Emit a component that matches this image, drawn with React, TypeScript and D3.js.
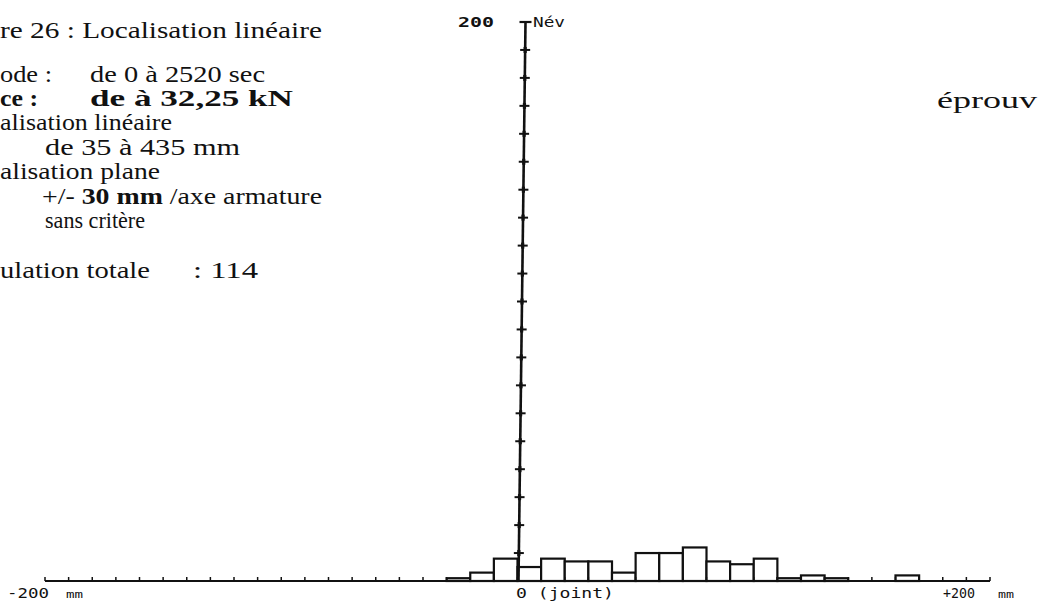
import React from 'react';
import * as d3 from 'd3';

// Histogram of located events (bin start in mm, 10 mm bins)
const binStarts = [-30, -20, -10, 0, 10, 20, 30, 40, 50, 60, 70, 80, 90, 100, 110, 120, 130, 160];
const eventCounts = [1, 3, 8, 5, 8, 7, 7, 3, 10, 10, 12, 7, 6, 8, 1, 2, 1, 2];
const binWidthMm = 10;
const xDomain = [-200, 200];
const yDomain = [0, 200];
const xTickValues = d3.range(-200, 201, 10);
const yTickValues = d3.range(10, 200, 10);

export default function App() {
  const W = 1038;
  const H = 607;
  const x = d3.scaleLinear().domain(xDomain).range([45, 990]);
  const y = d3.scaleLinear().domain(yDomain).range([581, 22]);
  const lean = 7;
  const axisX = (v: number) => x(0) + 1 + lean * (v / yDomain[1]);

  const serif = '"Liberation Serif", "Times New Roman", serif';
  const mono = '"DejaVu Sans Mono", monospace';
  const ink = '#111';

  const bars = binStarts.map((b, i) => ({ x0: b, x1: b + binWidthMm, n: eventCounts[i] }));

  return (
    <svg width={W} height={H} viewBox={`0 0 ${W} ${H}`}
      style={{ position: 'absolute', left: 0, top: 0, background: '#fff' }}>
      <rect x={0} y={0} width={W} height={H} fill="#fff" />

      {/* Left text block */}
      <g fontFamily={serif} fontSize={22.5} fill={ink}>
        <text x={0} y={38} textLength={322} lengthAdjust="spacingAndGlyphs">re 26 : Localisation linéaire</text>
        <text x={0} y={82} textLength={52} lengthAdjust="spacingAndGlyphs">ode :</text>
        <text x={90} y={82} textLength={175} lengthAdjust="spacingAndGlyphs">de 0 à 2520 sec</text>
        <text x={0} y={106} fontWeight="bold" textLength={38} lengthAdjust="spacingAndGlyphs">ce :</text>
        <text x={90} y={106} fontWeight="bold" textLength={203} lengthAdjust="spacingAndGlyphs">de  à 32,25 kN</text>
        <text x={0} y={130} textLength={172} lengthAdjust="spacingAndGlyphs">alisation linéaire</text>
        <text x={45} y={155} textLength={195} lengthAdjust="spacingAndGlyphs">de 35 à 435 mm</text>
        <text x={0} y={179} textLength={160} lengthAdjust="spacingAndGlyphs">alisation plane</text>
        <text x={42} y={204} textLength={280} lengthAdjust="spacingAndGlyphs">
          +/- <tspan fontWeight="bold">30 mm</tspan> /axe armature
        </text>
        <text x={45} y={228} textLength={100} lengthAdjust="spacingAndGlyphs">sans critère</text>
        <text x={0} y={278} textLength={150} lengthAdjust="spacingAndGlyphs">ulation totale</text>
        <text x={193} y={278} textLength={65} lengthAdjust="spacingAndGlyphs">: 114</text>
      </g>
      <text x={937} y={108} fontFamily={serif} fontSize={22.5} fill={ink}
        textLength={100} lengthAdjust="spacingAndGlyphs">éprouv</text>

      {/* Bars */}
      <g fill="#fff" stroke={ink} strokeWidth={2.2}>
        {bars.map((d, i) => (
          <rect key={i} x={x(d.x0)} y={y(d.n)} width={x(d.x1) - x(d.x0)} height={y(0) - y(d.n)} />
        ))}
      </g>

      {/* X axis */}
      <line x1={x(xDomain[0])} x2={x(xDomain[1])} y1={y(0)} y2={y(0)} stroke={ink} strokeWidth={2.2} />
      {xTickValues.map(v => (
        <line key={v} x1={x(v)} x2={x(v)} y1={y(0)} y2={y(0) - 4} stroke={ink} strokeWidth={1.5} />
      ))}

      {/* Y axis */}
      <line x1={axisX(0)} y1={y(0)} x2={axisX(yDomain[1])} y2={y(yDomain[1])} stroke={ink} strokeWidth={2.6} />
      {yTickValues.map(v => (
        <g key={v}>
          <line x1={axisX(v) - 5} x2={axisX(v) + 5} y1={y(v)} y2={y(v)} stroke={ink} strokeWidth={2} />
          <line x1={axisX(v)} x2={axisX(v)} y1={y(v) - 3} y2={y(v) + 3} stroke={ink} strokeWidth={3.2} />
        </g>
      ))}
      <line x1={axisX(yDomain[1]) - 6} x2={axisX(yDomain[1]) + 6} y1={y(yDomain[1])} y2={y(yDomain[1])} stroke={ink} strokeWidth={2.2} />

      {/* Axis labels */}
      <g fontFamily={mono} fontSize={14} fill={ink}>
        <text x={458} y={27} fontWeight="bold" textLength={36} lengthAdjust="spacingAndGlyphs">{yDomain[1]}</text>
        <text x={533} y={27} textLength={32} lengthAdjust="spacingAndGlyphs">Név</text>
        <text x={7} y={598} textLength={42} lengthAdjust="spacingAndGlyphs">-200</text>
        <text x={66} y={598} fontSize={11} textLength={17} lengthAdjust="spacingAndGlyphs">mm</text>
        <text x={516} y={598} textLength={98} lengthAdjust="spacingAndGlyphs">0 (joint)</text>
        <text x={943} y={598} textLength={32} lengthAdjust="spacingAndGlyphs">+200</text>
        <text x={998} y={598} fontSize={11} textLength={16} lengthAdjust="spacingAndGlyphs">mm</text>
      </g>
    </svg>
  );
}
